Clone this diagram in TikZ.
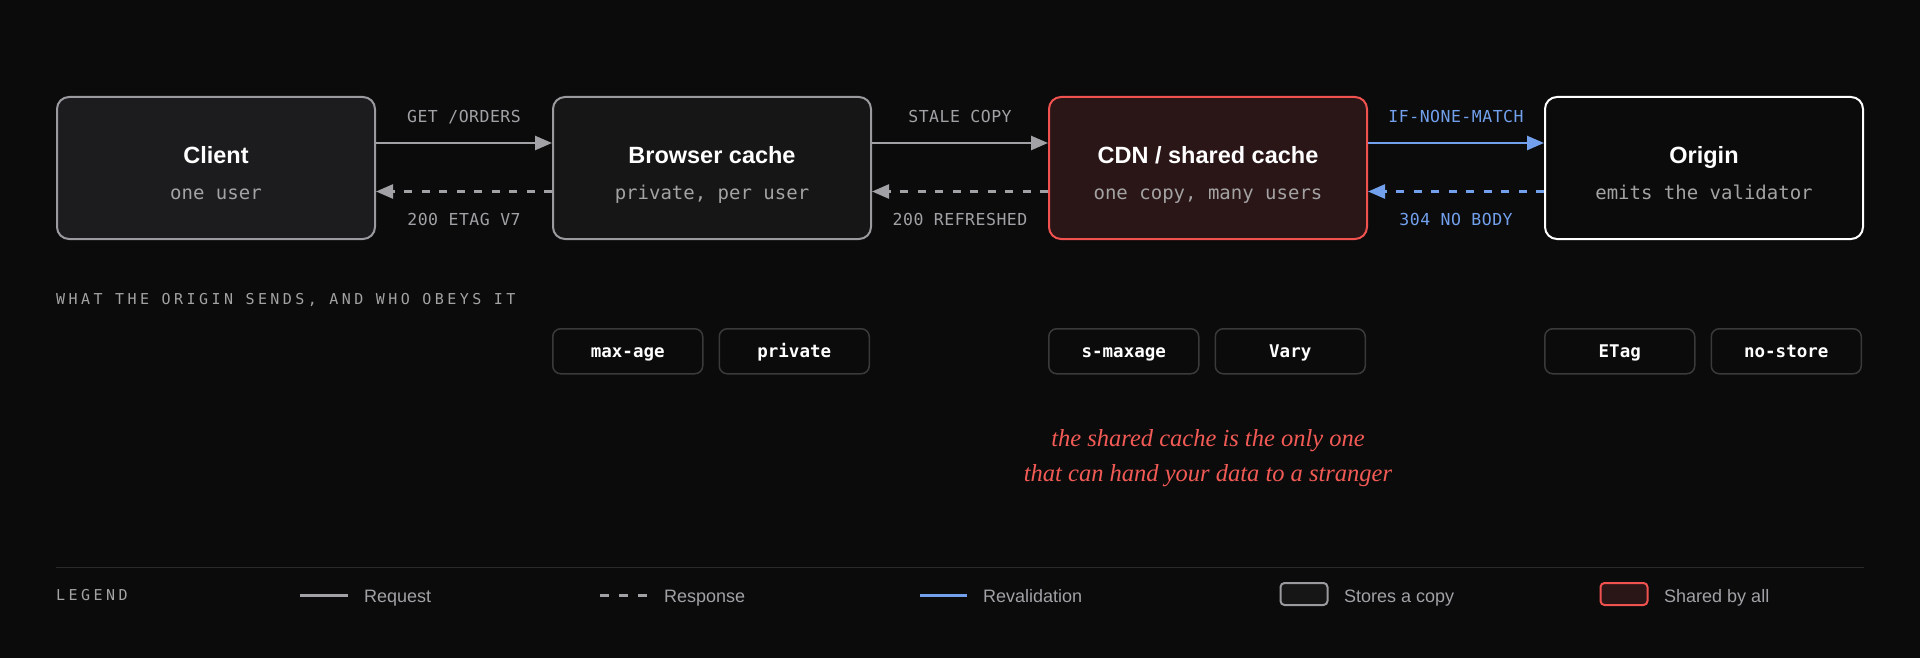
\documentclass[tikz,border=0pt]{standalone}
\usepackage{fontspec}
\setmainfont{Liberation Sans}
\newfontfamily\monofont{DejaVu Sans Mono}
\newfontfamily\trackfont[LetterSpace=23]{DejaVu Sans Mono}
\newfontfamily\labelfont[LetterSpace=3]{DejaVu Sans Mono}
\newfontfamily\notefont{Liberation Serif}
\usepackage{tikz}
\usetikzlibrary{arrows.meta, positioning, calc}

\definecolor{bg}{HTML}{0B0B0B}
\definecolor{clientfill}{HTML}{1C1C1F}
\definecolor{browserfill}{HTML}{161616}
\definecolor{cdnfill}{HTML}{2A1517}
\definecolor{boxgray}{HTML}{9A9A9F}
\definecolor{cdnred}{HTML}{F0524F}
\definecolor{arrgray}{HTML}{A1A1A6}
\definecolor{subgray}{HTML}{A3A3A3}
\definecolor{revblue}{HTML}{72A0EC}
\definecolor{pillgray}{HTML}{3A3A3C}
\definecolor{rulegray}{HTML}{2A2A2A}
\definecolor{notered}{HTML}{F25A55}

\begin{document}
\begin{tikzpicture}[
  x=1pt, y=1pt,
  >={Triangle[length=17pt,width=14pt]},
  box/.style={draw,rounded corners=12pt,line width=2pt,minimum width=318pt,minimum height=142pt},
  title/.style={anchor=base,inner sep=0pt,text=white,font=\fontsize{23.5}{28}\selectfont\bfseries},
  sub/.style={anchor=base,inner sep=0pt,text=subgray,font=\monofont\fontsize{19}{23}\selectfont},
  req/.style={->,line width=2.5pt,draw=arrgray},
  resp/.style={req,dash pattern=on 8pt off 9.5pt},
  lbl/.style={anchor=base,inner sep=0pt,text=arrgray,font=\labelfont\fontsize{16.5}{20}\selectfont},
  pill/.style={draw=pillgray,fill=bg,rounded corners=8pt,line width=1.5pt,minimum width=150pt,minimum height=45pt,
    text height=16pt,text depth=3.5pt,text=white,font=\monofont\bfseries\fontsize{17.5}{21}\selectfont},
  caps/.style={inner sep=0pt,text=subgray,font=\trackfont\fontsize{15}{18}\selectfont},
  note/.style={align=center,inner sep=0pt,text=notered,font=\notefont\itshape\fontsize{24.5}{35}\selectfont},
  key/.style={anchor=base west,inner sep=0pt,text=arrgray,font=\fontsize{18}{22}\selectfont},
  swatch/.style={draw,rounded corners=4pt,line width=2pt,minimum width=47pt,minimum height=22pt}
]

% ----- Background / bounding box -------------------------------------------
\fill[bg] (0,0) rectangle (1920,-658);
\useasboundingbox (0,0) rectangle (1920,-658);

% ----- Boxes ---------------------------------------------------------------
\node[box,draw=boxgray,fill=clientfill] (client) at (216,-168) {};
\node[box,draw=boxgray,fill=browserfill,right=176pt of client] (browser) {};
\node[box,draw=cdnred,fill=cdnfill,right=176pt of browser]      (cdn) {};
\node[box,draw=white,fill=bg,right=176pt of cdn]                (origin) {};

\node[title] (clientT)  at ([yshift=4.7pt]client.center)  {Client};
\node[sub]   (clientS)  at ([yshift=-32pt]client.center)  {one user};
\node[title] (browserT) at ([yshift=4.7pt]browser.center) {Browser cache};
\node[sub]   (browserS) at ([yshift=-32pt]browser.center) {private, per user};
\node[title] (cdnT)     at ([yshift=4.7pt]cdn.center)     {CDN / shared cache};
\node[sub]   (cdnS)     at ([yshift=-32pt]cdn.center)     {one copy, many users};
\node[title] (originT)  at ([yshift=4.7pt]origin.center)  {Origin};
\node[sub]   (originS)  at ([yshift=-32pt]origin.center)  {emits the validator};

% ----- Requests (solid) and responses (dashed) -----------------------------
\draw[req] ([yshift=25pt]client.east) -- ([yshift=25pt]browser.west)
  node[lbl,midway,yshift=20.7pt]{GET /ORDERS};
\draw[resp] ([yshift=-23.5pt]browser.west) -- ([yshift=-23.5pt]client.east)
  node[lbl,midway,yshift=-34.3pt]{200 ETAG V7};

\draw[req] ([yshift=25pt]browser.east) -- ([yshift=25pt]cdn.west)
  node[lbl,midway,yshift=20.7pt]{STALE COPY};
\draw[resp] ([yshift=-23.5pt]cdn.west) -- ([yshift=-23.5pt]browser.east)
  node[lbl,midway,yshift=-34.3pt]{200 REFRESHED};

\draw[req,draw=revblue] ([yshift=25pt]cdn.east) -- ([yshift=25pt]origin.west)
  node[lbl,text=revblue,midway,yshift=20.7pt]{IF-NONE-MATCH};
\draw[resp,draw=revblue] ([yshift=-23.5pt]origin.west) -- ([yshift=-23.5pt]cdn.east)
  node[lbl,text=revblue,midway,yshift=-34.3pt]{304 NO BODY};

% ----- Headers the origin sends --------------------------------------------
\node[caps,anchor=base west] (heading) at (56,-304) {WHAT THE ORIGIN SENDS, AND WHO OBEYS IT};

\node[pill,anchor=north west] (maxage)  at ([yshift=-88pt]browser.south west) {max-age};
\node[pill,right=15pt of maxage]  (private) {private};
\node[pill,anchor=north west] (smaxage) at ([yshift=-88pt]cdn.south west) {s-maxage};
\node[pill,right=15pt of smaxage] (vary)    {Vary};
\node[pill,anchor=north west] (etag)    at ([yshift=-88pt]origin.south west) {ETag};
\node[pill,right=15pt of etag]    (nostore) {no-store};

\node[note] (warn) at ($(cdn.center)+(0,-290)$)
  {the shared cache is the only one\\that can hand your data to a stranger};

% ----- Legend --------------------------------------------------------------
\draw[rulegray,line width=1.5pt] (client.west |- 0,-567.5) -- (origin.east |- 0,-567.5);

\node[caps,anchor=base west] (legend) at (56,-600.5) {LEGEND};

\coordinate (reqA) at (300,-595);  \coordinate (reqB) at (348,-595);
\draw[arrgray,line width=3pt] (reqA) -- (reqB);
\node[key] (reqK) at (364,-602.5) {Request};

\coordinate (respA) at (600,-595); \coordinate (respB) at (647,-595);
\draw[arrgray,line width=3pt,dash pattern=on 9pt off 10pt] (respA) -- (respB);
\node[key] (respK) at (664,-602.5) {Response};

\coordinate (revA) at (920,-595);  \coordinate (revB) at (967,-595);
\draw[revblue,line width=3pt] (revA) -- (revB);
\node[key] (revK) at (983,-602.5) {Revalidation};

\node[swatch,draw=boxgray,fill=browserfill] (storeS) at (1304,-594) {};
\node[key] (storeK) at (1344,-602.5) {Stores a copy};

\node[swatch,draw=cdnred,fill=cdnfill] (sharedS) at (1624,-594) {};
\node[key] (sharedK) at (1664,-602.5) {Shared by all};

\end{tikzpicture}
\end{document}
